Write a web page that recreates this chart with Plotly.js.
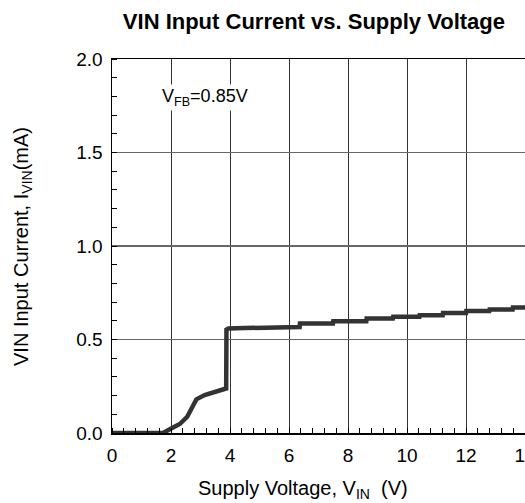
<!DOCTYPE html>
<html><head><meta charset="utf-8">
<script src="https://cdn.plot.ly/plotly-3.0.1.min.js"></script>
<style>html,body{margin:0;padding:0;background:#fff}</style>
</head><body><div id="chart" style="width:525px;height:503px"></div>
<script>
const supplyVoltage = [0, 0.5, 1.0, 1.5, 1.73, 2.02, 2.3, 2.55, 2.73, 2.86, 3.14, 3.54, 3.87, 3.88, 3.95, 4.5, 5.2, 5.67, 6.36, 6.37, 7.49, 7.5, 8.62, 8.63, 9.52, 9.53, 10.42, 10.43, 11.21, 11.22, 12.0, 12.01, 12.79, 12.8, 13.58, 13.59, 14.0];
const inputCurrent = [0, 0, 0, 0, 0, 0.025, 0.048, 0.087, 0.14, 0.18, 0.203, 0.22, 0.238, 0.553, 0.559, 0.561, 0.564, 0.567, 0.567, 0.586, 0.586, 0.598, 0.598, 0.612, 0.612, 0.621, 0.621, 0.630, 0.630, 0.642, 0.642, 0.653, 0.653, 0.660, 0.660, 0.671, 0.671];
const xTickVals = [0, 2, 4, 6, 8, 10, 12, 14];
const yTickVals = [0, 0.5, 1.0, 1.5, 2.0];
const yTickText = ['0.0', '0.5', '1.0', '1.5', '2.0'];

const font = 'Liberation Sans, Arial, sans-serif';
Plotly.newPlot('chart', [{
  x: supplyVoltage, y: inputCurrent, mode: 'lines', type: 'scatter',
  line: {color: '#333333', width: 4.5}, hoverinfo: 'skip'
}], {
  width: 525, height: 503,
  margin: {l: 112, r: 0, t: 59, b: 70},
  paper_bgcolor: '#fff', plot_bgcolor: '#fff',
  showlegend: false,
  font: {family: font, size: 19, color: '#000'},
  title: {text: '<b>VIN Input Current vs. Supply Voltage</b>', font: {family: font, size: 22, color: '#000'},
          xref: 'container', x: 0.598, xanchor: 'center', yref: 'container', y: 0.958, yanchor: 'middle'},
  xaxis: {range: [0, 14], tickvals: xTickVals, ticks: '', showgrid: true, gridcolor: '#333', gridwidth: 1,
          zeroline: false, showline: true, linecolor: '#000', linewidth: 1.5, mirror: true,
          tickfont: {family: font, size: 19, color: '#000'}, ticklabelstandoff: 5, ticklabeloverflow: 'allow',
          minor: {dtick: 0.4, ticks: 'inside', ticklen: 5, tickcolor: '#000', tickwidth: 1, showgrid: false}},
  yaxis: {range: [0, 2], tickvals: yTickVals, ticktext: yTickText, ticks: '', showgrid: true, gridcolor: '#666', gridwidth: 1.3,
          zeroline: false, showline: true, linecolor: '#000', linewidth: 1.5, mirror: true,
          tickfont: {family: font, size: 19, color: '#000'}, ticklabelstandoff: 4,
          minor: {dtick: 0.1, ticks: 'inside', ticklen: 5, tickcolor: '#000', tickwidth: 1, showgrid: false}},
  annotations: [
    {text: 'V<sub>FB</sub>=0.85V', xref: 'x', yref: 'y', x: 3.15, y: 1.794, showarrow: false,
     bgcolor: '#fff', font: {family: font, size: 18, color: '#000'}, xanchor: 'center', yanchor: 'middle'},
    {text: 'Supply Voltage, V<sub>IN</sub>  (V)', xref: 'paper', yref: 'paper', x: (303-112)/413, y: -56/374,
     showarrow: false, font: {family: font, size: 20, color: '#000'}, xanchor: 'center', yanchor: 'middle'},
    {text: 'VIN Input Current, I<sub>VIN</sub>(mA)', xref: 'paper', yref: 'paper', x: (22-112)/413, y: (433-247)/374,
     textangle: -90, showarrow: false, font: {family: font, size: 20, color: '#000'}, xanchor: 'center', yanchor: 'middle'}
  ]
}, {displayModeBar: false, staticPlot: true});
</script></body></html>
